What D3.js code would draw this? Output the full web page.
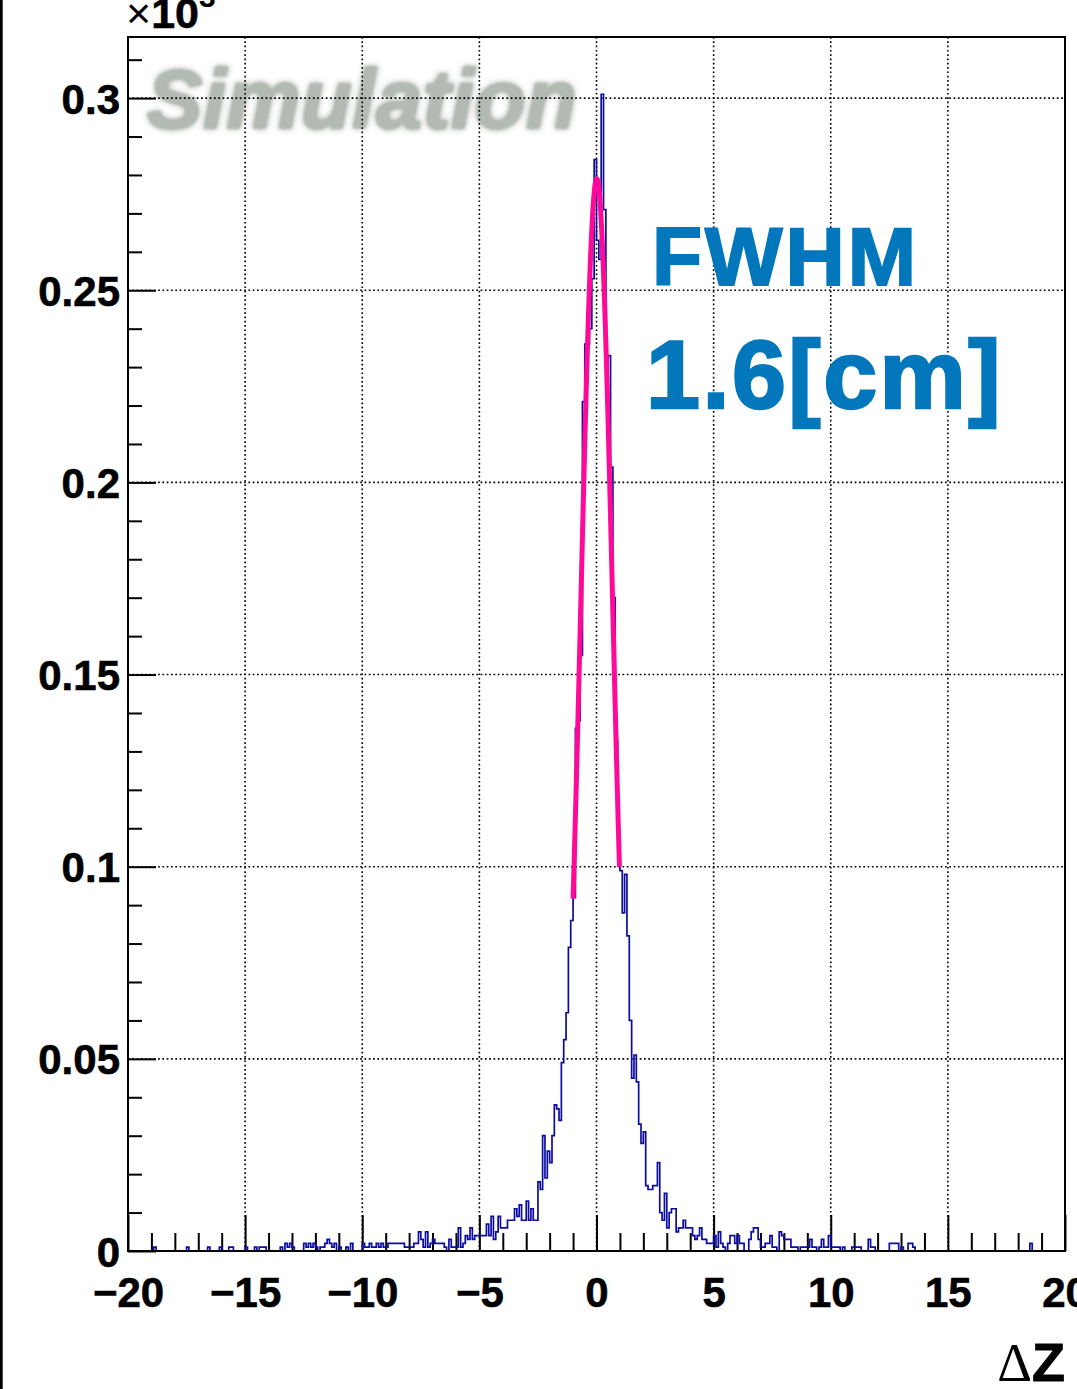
<!DOCTYPE html>
<html><head><meta charset="utf-8">
<script src="https://cdn.jsdelivr.net/npm/d3@7"></script>
<style>
html,body{margin:0;padding:0;background:#fff;}
svg{display:block;}
</style></head>
<body>
<svg id="chart" width="1077" height="1389"></svg>
<script>
// ---- data (counts per 0.1 bin, x from -20 to 20; y axis in units of 10^3) ----
const binLow = -20, binHigh = 20, binWidth = 0.1;
const counts = [
  0,0,0,0,0,0,0,0,0,0, 0,1,0,0,0,0,0,0,0,0,
  0,0,0,0,0,1,0,0,0,0, 0,0,0,0,1,0,0,0,0,1,
  0,0,0,1,1,0,0,0,0,0, 1,0,0,0,1,0,1,1,1,0,
  0,0,0,0,0,1,0,2,1,2, 1,0,0,0,0,2,1,2,1,2,
  1,0,1,1,2,3,2,1,2,0, 1,0,0,1,0,2,0,0,0,0,
  2,1,1,2,1,1,2,1,2,1, 1,2,2,2,2,2,2,2,1,1,
  1,1,2,2,5,3,1,5,1,2, 3,2,2,2,2,1,0,3,1,1,
  1,6,1,2,4,3,6,3,4,4, 4,4,4,7,4,9,3,5,9,6,
  6,6,8,8,8,11,9,12,8,8, 13,8,11,8,8,18,16,30,19,26,
  23,30,38,37,34,49,55,62,79,86, 92,136,138,155,221,236,236,240,253,284,
  263,258,301,271,230,233,204,170,133,109, 99,88,98,82,60,45,51,44,33,28,
  31,17,16,16,17,17,23,10,8,15, 6,10,11,11,5,6,6,8,6,6,
  6,4,3,4,6,3,3,2,2,2, 4,1,5,2,1,0,2,4,4,2,
  4,2,2,0,0,3,5,6,6,3, 1,1,2,2,4,1,1,0,5,4,
  3,3,3,1,1,1,0,1,1,1, 1,3,1,1,0,1,3,1,1,4,
  1,1,1,1,0,1,0,0,0,1, 1,1,1,0,0,0,3,1,1,0,
  0,0,0,0,0,2,2,2,2,0, 1,0,0,2,2,1,0,0,0,0,
  0,0,0,0,0,0,0,0,0,0, 0,0,0,0,0,0,0,0,0,0,
  0,0,0,0,0,0,0,0,0,0, 0,0,0,0,0,0,0,0,0,0,
  0,0,0,0,0,2,0,0,0,0, 0,0,0,0,0,0,0,0,0,0
];
const countScale = 1000;              // axis shows x10^3
const yMax = 0.3159;
const xTickValues = [-20,-15,-10,-5,0,5,10,15,20];
const xTickLabels = ["\u221220","\u221215","\u221210","\u22125","0","5","10","15","20"];
const xMinorTicks = [-19,-18,-17,-16,-14,-13,-12,-11,-9,-8,-7,-6,-4,-3,-2,-1,1,2,3,4,6,7,8,9,11,12,13,14,16,17,18,19];
const yTickValues = [0,0.05,0.1,0.15,0.2,0.25,0.3];
const yTickLabels = ["0","0.05","0.1","0.15","0.2","0.25","0.3"];
const yMinorTicks = [0.01,0.02,0.03,0.04,0.06,0.07,0.08,0.09,0.11,0.12,0.13,0.14,0.16,0.17,0.18,0.19,0.21,0.22,0.23,0.24,0.26,0.27,0.28,0.29,0.31];
// Gaussian fit parameters (counts, cm)
const fitAmp = 279, fitMean = 0.01, fitSigma = 0.677, fitRange = [-1.0, 0.98];
const annotation = ["FWHM", "1.6[cm]"];
const watermark = "Simulation";
const xTitle = ["\u0394", "Z"];

// ---- layout ----
const L = 128, R = 1065, T = 37, B = 1251;
const svg = d3.select("#chart");
const x = d3.scaleLinear().domain([binLow, binHigh]).range([L, R]);
const y = d3.scaleLinear().domain([0, yMax]).range([B, T]);
const FONT = "'Liberation Sans', Arial, Helvetica, sans-serif";

svg.append("rect").attr("width",1077).attr("height",1389).attr("fill","#fff");
// left edge black bar
svg.append("rect").attr("x",0).attr("y",0).attr("width",2.7).attr("height",1389).attr("fill","#000");

// defs
const defs = svg.append("defs");
defs.append("filter").attr("id","blurA").attr("x","-10%").attr("y","-30%").attr("width","120%").attr("height","160%")
  .append("feGaussianBlur").attr("stdDeviation",3);
defs.append("filter").attr("id","blurB").attr("x","-10%").attr("y","-30%").attr("width","120%").attr("height","160%")
  .append("feGaussianBlur").attr("stdDeviation",1.1);
defs.append("clipPath").attr("id","frameClip").append("rect")
  .attr("x",L).attr("y",T).attr("width",R-L).attr("height",B-T);

// watermark
const wm = svg.append("g").attr("font-family",FONT).attr("font-weight","bold").attr("font-style","italic").attr("font-size",83).attr("letter-spacing",0.6);
wm.append("text").attr("x",147).attr("y",128).attr("fill","#9aa39a").attr("stroke","#9aa39a").attr("stroke-width",2).attr("opacity",0.8).attr("filter","url(#blurA)").text(watermark);
wm.append("text").attr("x",147).attr("y",128).attr("fill","#b3b9b3").attr("stroke","#b3b9b3").attr("stroke-width",1.5).attr("filter","url(#blurB)").text(watermark);

// grid
const grid = svg.append("g").attr("stroke","#000").attr("stroke-width",1.6).attr("stroke-dasharray","1.7,2.6");
grid.selectAll("line.gx").data(xTickValues.slice(1,-1)).join("line")
  .attr("x1",d=>x(d)).attr("x2",d=>x(d)).attr("y1",T).attr("y2",B);
grid.selectAll("line.gy").data(yTickValues.slice(1)).join("line")
  .attr("y1",d=>y(d)).attr("y2",d=>y(d)).attr("x1",L).attr("x2",R);

// axes
function styleAxis(g){
  g.select(".domain").remove();
  g.selectAll(".tick line").attr("stroke","#000").attr("stroke-width",2);
  g.selectAll(".tick text").attr("fill","#000").attr("font-family",FONT).attr("font-weight","bold").attr("font-size",42)
    .attr("stroke","#000").attr("stroke-width",0.6);
}
svg.append("g").attr("transform",`translate(${L},0)`)
  .call(d3.axisLeft(y).tickValues(yMinorTicks).tickSize(-14).tickFormat(""))
  .call(styleAxis);
svg.append("g").attr("transform",`translate(${L},0)`)
  .call(d3.axisLeft(y).tickValues(yTickValues).tickSize(-28).tickPadding(8).tickFormat((d,i)=>yTickLabels[i]))
  .call(styleAxis)
  .call(g=>g.selectAll(".tick text").attr("dy","0.36em"));
svg.append("g").attr("transform",`translate(0,${B})`)
  .call(d3.axisBottom(x).tickValues(xMinorTicks).tickSize(-18).tickFormat(""))
  .call(styleAxis);
svg.append("g").attr("transform",`translate(0,${B})`)
  .call(d3.axisBottom(x).tickValues(xTickValues).tickSize(-36).tickPadding(26).tickFormat((d,i)=>xTickLabels[i]))
  .call(styleAxis);

// histogram
const pts = [[binLow,0]];
counts.forEach((c,i)=>{ const lo = binLow + i*binWidth, hi = lo + binWidth; pts.push([lo,c/countScale],[hi,c/countScale]); });
pts.push([binHigh,0]);
svg.append("path").attr("clip-path","url(#frameClip)")
  .attr("d", d3.line().x(d=>x(d[0])).y(d=>y(d[1]))(pts))
  .attr("fill","none").attr("stroke","#0c0ca0").attr("stroke-width",1.7).attr("stroke-linejoin","miter");

// fit curve
const fitPts = d3.range(0, 201).map(k => {
  const xv = fitRange[0] + (fitRange[1]-fitRange[0])*k/200;
  return [xv, fitAmp*Math.exp(-0.5*Math.pow((xv-fitMean)/fitSigma,2))/countScale];
});
svg.append("path").attr("d", d3.line().x(d=>x(d[0])).y(d=>y(d[1]))(fitPts))
  .attr("fill","none").attr("stroke","#ff0a98").attr("stroke-width",5);

// frame
svg.append("rect").attr("x",L).attr("y",T).attr("width",R-L).attr("height",B-T)
  .attr("fill","none").attr("stroke","#000").attr("stroke-width",2);

// x10^3
const ex = svg.append("text").attr("x",126).attr("y",28).attr("font-family",FONT).attr("font-size",43).attr("fill","#000");
ex.append("tspan").text("\u00d7");
ex.append("tspan").attr("font-weight","bold").attr("stroke","#000").attr("stroke-width",0.6).text("10");
ex.append("tspan").attr("font-weight","bold").attr("font-size",30).attr("dy",-21).text("3");

// axis title
const xt = svg.append("text").attr("x",R).attr("y",1381).attr("text-anchor","end").attr("font-family",FONT).attr("font-size",54).attr("fill","#000");
xt.append("tspan").attr("font-family","'Liberation Serif', serif").text(xTitle[0]);
xt.append("tspan").attr("font-weight","bold").attr("stroke","#000").attr("stroke-width",0.8).text(xTitle[1]);

// annotation
svg.append("text").attr("x",652).attr("y",285).attr("font-family",FONT).attr("font-weight","bold").attr("font-size",82)
  .attr("letter-spacing",3).attr("fill","#0377bc").attr("stroke","#0377bc").attr("stroke-width",2).text(annotation[0]);
svg.append("text").attr("x",646).attr("y",408).attr("font-family",FONT).attr("font-weight","bold").attr("font-size",97)
  .attr("letter-spacing",2.5).attr("fill","#0377bc").attr("stroke","#0377bc").attr("stroke-width",2.5).text(annotation[1]);
</script>
</body></html>
